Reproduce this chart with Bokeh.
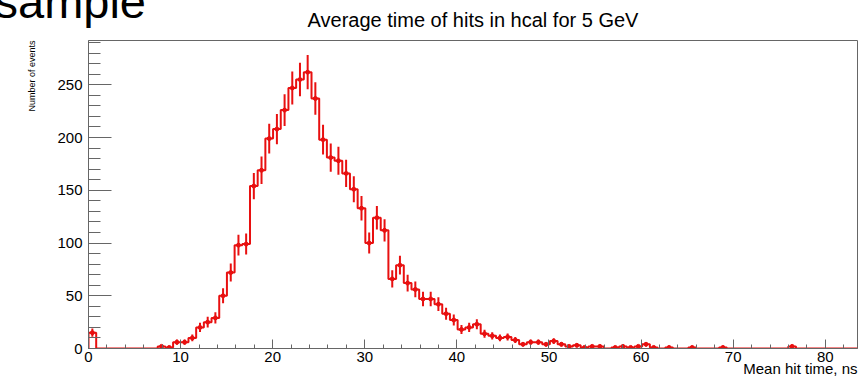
import numpy as np
from bokeh.plotting import figure
from bokeh.models import Range1d, SingleIntervalTicker, Title
from bokeh.embed import file_html
from bokeh.resources import INLINE

# ---- data ----
x_lo, x_hi = 0.0, 83.5
n_bins = 100
counts = [
    15, 0, 0, 0, 0, 0, 0, 0, 0, 2,
    1, 6, 6, 10, 20, 25, 29, 50, 72, 98,
    99, 154, 169, 199, 208, 226, 247, 255, 262, 237,
    198, 181, 178, 166, 151, 133, 100, 124, 112, 66,
    79, 62, 56, 47, 47, 42, 33, 27, 18, 20,
    23, 14, 12, 10, 11, 8, 4, 6, 6, 4,
    7, 4, 2, 3, 1, 2, 2, 0, 1, 2,
    1, 2, 4, 1, 0, 1, 0, 0, 1, 0,
    0, 0, 1, 0, 0, 0, 0, 0, 0, 0,
    0, 2, 0, 0, 0, 0, 0, 0, 0, 0,
]
x_ticks_interval = 10
y_ticks_interval = 50
title_text = "Average time of hits in hcal for 5 GeV"
x_title = "Mean hit time, ns"
y_title = "Number of events"
corner_text = "sample"

counts = np.array(counts, dtype=float)
edges = np.linspace(x_lo, x_hi, n_bins + 1)
centers = 0.5 * (edges[:-1] + edges[1:])
errs = np.sqrt(counts)
nz = counts > 0

RED = "#e81010"
FONT = "Liberation Sans"
GRAY = "#666666"

p = figure(width=867, height=379, output_backend="svg", toolbar_location=None,
           x_range=Range1d(x_lo, x_hi), y_range=Range1d(0, 292),
           min_border_left=88, min_border_right=10, min_border_top=40,
           min_border_bottom=31, title=None)
p.background_fill_color = "white"
p.border_fill_color = "white"
p.outline_line_color = GRAY
p.outline_line_width = 1
p.grid.visible = False

# histogram outline
step_x = np.concatenate([[x_lo], edges])
step_y = np.concatenate([[0.0], counts, [counts[-1]]])
p.step(x=step_x, y=step_y, mode="after", line_color=RED, line_width=2)

# error bars + markers
p.segment(x0=centers[nz], y0=(counts - errs)[nz], x1=centers[nz], y1=(counts + errs)[nz],
          line_color=RED, line_width=2)
p.scatter(x=centers[nz], y=counts[nz], size=4, marker="circle",
          fill_color=RED, line_color=RED)

# axes
p.xaxis.ticker = SingleIntervalTicker(interval=x_ticks_interval, num_minor_ticks=5)
p.yaxis.ticker = SingleIntervalTicker(interval=y_ticks_interval, num_minor_ticks=5)
for ax in (p.xaxis, p.yaxis):
    ax.axis_line_color = GRAY
    ax.major_tick_line_color = GRAY
    ax.minor_tick_line_color = GRAY
    ax.major_tick_out = 0
    ax.minor_tick_out = 0
    ax.major_label_text_font = FONT
    ax.major_label_text_color = "black"
p.xaxis.major_tick_in = 9
p.xaxis.minor_tick_in = 4
p.yaxis.major_tick_in = 23
p.yaxis.minor_tick_in = 12
p.xaxis.major_label_text_font_size = "15px"
p.yaxis.major_label_text_font_size = "15px"
p.xaxis.major_label_standoff = 3
p.yaxis.major_label_standoff = 6

# titles in the side panels
main_t = Title(text=title_text, align="center", vertical_align="top", text_font=FONT,
               text_font_size="20px", text_font_style="normal", text_color="black",
               standoff=14.6)
p.add_layout(main_t, "above")
corner_t = Title(text=corner_text, align="left", vertical_align="bottom", offset=-94,
                 text_font=FONT, text_font_size="47px", text_font_style="normal",
                 text_color="black", standoff=-53.8)
p.add_layout(corner_t, "above")
x_t = Title(text=x_title, align="right", text_font=FONT, text_font_size="15px",
            text_font_style="normal", text_color="black", standoff=-14)
p.add_layout(x_t, "below")
y_t = Title(text=y_title, align="right", text_font=FONT, text_font_size="9px",
            text_font_style="normal", text_color="black", standoff=36)
p.add_layout(y_t, "left")

open("out.html", "w").write(file_html(p, INLINE))
